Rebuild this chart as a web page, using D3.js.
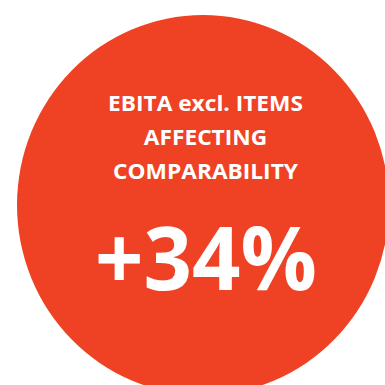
<!DOCTYPE html>
<html>
<head>
<meta charset="utf-8">
<script src="https://cdn.jsdelivr.net/npm/d3@7"></script>
<style>
  html, body { margin: 0; padding: 0; background: #ffffff; }
  svg { display: block; }
</style>
</head>
<body>
<script>
// Data
const labelLines = ["EBITA excl. ITEMS", "AFFECTING", "COMPARABILITY"];
const values = [34];
const valueFormat = v => "+" + v + "%";

const W = 385, H = 385;
const FONT = "'Open Sans', Lato, sans-serif";
const svg = d3.select("body").append("svg").attr("width", W).attr("height", H);

const cx = 203, cy = 205, rx = 186, ry = 190;
svg.append("ellipse")
  .attr("cx", cx).attr("cy", cy).attr("rx", rx).attr("ry", ry)
  .attr("fill", "#EF4224");

const lineY = d3.scalePoint().domain(labelLines).range([111, 179]);

const labels = svg.selectAll("text.label")
  .data(labelLines)
  .join("text")
  .attr("class", "label")
  .attr("text-anchor", "middle")
  .attr("fill", "#ffffff")
  .attr("font-family", FONT)
  .attr("font-weight", "bold")
  .attr("font-size", 22)
  .text(d => d);

const sx = 195 / labels.nodes()[0].getComputedTextLength();
labels.attr("transform", d => `translate(205.5,${lineY(d)}) scale(${sx},1)`);

const val = svg.selectAll("text.value")
  .data(values)
  .join("text")
  .attr("class", "value")
  .attr("text-anchor", "middle")
  .attr("fill", "#ffffff")
  .attr("font-family", FONT)
  .attr("font-weight", "bold")
  .attr("font-size", 88)
  .text(d => valueFormat(d));
const sv = 222 / val.node().getComputedTextLength();
val.attr("transform", `translate(206,290) scale(${sv},1)`);
</script>
</body>
</html>
